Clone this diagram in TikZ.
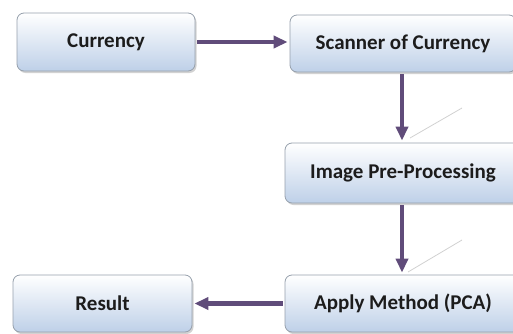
\documentclass[tikz,border=0pt]{standalone}
\usepackage{fontspec}
\setmainfont{Carlito}
\usetikzlibrary{arrows.meta,shadows}
\definecolor{boxbottom}{RGB}{190,208,232}
\definecolor{boxedge}{RGB}{150,160,172}
\definecolor{flow}{RGB}{96,76,122}
\definecolor{inktext}{RGB}{28,28,28}
\tikzset{
  stage/.style={draw=boxedge, line width=0.8pt, rounded corners=7pt,
    top color=white, bottom color=boxbottom, shading angle=0,
    drop shadow={shadow xshift=1.5pt, shadow yshift=-2pt, fill=black!35, opacity=0.5},
    text=inktext, font=\bfseries\fontsize{21}{24}\selectfont,
    inner sep=0pt, align=center},
  flowarrow/.style={draw=flow, line width=4.5pt,
    -{Triangle[length=14pt,width=12pt]}, shorten <=2pt, shorten >=2pt},
  glint/.style={draw=black!18, line width=0.8pt}
}
\begin{document}
\begin{tikzpicture}[x=1pt,y=1pt]
  \useasboundingbox (0,0) rectangle (513,333);
  \clip (0,0) rectangle (513,333);
  % processing stages
  \node[stage, minimum width=178pt, minimum height=58pt] (cur) at (106,291) {Currency};
  \node[stage, minimum width=226pt, minimum height=57pt] (scan) at (403,289.5) {Scanner of Currency};
  \node[stage, minimum width=236pt, minimum height=60pt] (pre) at (403,160) {Image Pre-Processing};
  \node[stage, minimum width=236pt, minimum height=57pt] (pca) at (403,29.5) {Apply Method (PCA)};
  \node[stage, minimum width=179pt, minimum height=57pt] (res) at (102.5,29.5) {Result};
  % faint glints beside the vertical arrows
  \draw[glint] (410,195) -- (462,225);
  \draw[glint] (408,61) -- (462,93);
  % flow between stages
  \draw[flowarrow] (cur.east) -- (cur.east -| scan.west);
  \draw[flowarrow] (scan.south -| 402,0) -- (pre.north -| 402,0);
  \draw[flowarrow] (pre.south -| 402,0) -- (pca.north -| 402,0);
  \draw[flowarrow] (pca.west) -- (pca.west -| res.east);
\end{tikzpicture}
\end{document}
